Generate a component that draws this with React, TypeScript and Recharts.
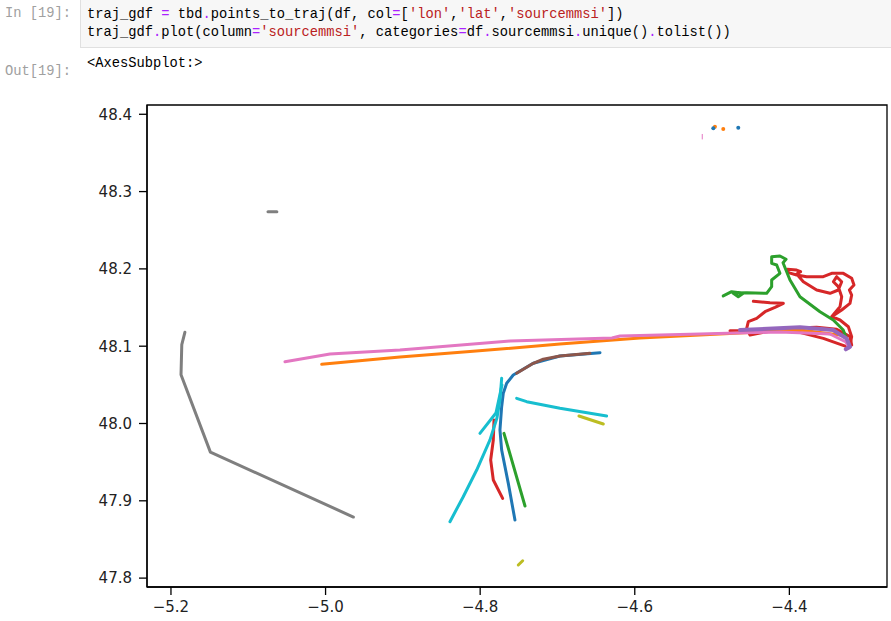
import React from "react";
import {
  ScatterChart,
  Scatter,
  XAxis,
  YAxis,
  ReferenceArea,
} from "recharts";

// lon / lat pairs
const blueTrack = [
  [-4.645, 48.0916], [-4.6968, 48.0873], [-4.7313, 48.0779], [-4.7572, 48.0627],
  [-4.7657, 48.052], [-4.7701, 48.0391], [-4.7722, 48.0217], [-4.7744, 47.9916],
  [-4.7722, 47.9657], [-4.7636, 47.9226], [-4.755, 47.8752],
];
const brownTrack = [
  [-4.658, 48.0908], [-4.6968, 48.0873], [-4.7184, 48.0831], [-4.7313, 48.0779], [-4.7528, 48.0649],
];
const redNorthA = [
  [-4.4466, 48.158], [-4.4251, 48.1563], [-4.4078, 48.1554], [-4.4186, 48.1502],
  [-4.4315, 48.1446], [-4.4423, 48.136], [-4.4531, 48.1317], [-4.4552, 48.1231],
  [-4.4509, 48.1145], [-4.4294, 48.1188], [-4.3992, 48.1231], [-4.3647, 48.1244],
  [-4.3388, 48.1218], [-4.3216, 48.1123], [-4.3194, 48.1015], [-4.3259, 48.0994],
  [-4.3561, 48.1101], [-4.3906, 48.1188], [-4.4294, 48.1201], [-4.4768, 48.1201],
];
const redNorthB = [
  [-4.3216, 48.1015], [-4.3194, 48.1123], [-4.3237, 48.1252], [-4.3345, 48.1339],
  [-4.3453, 48.1382], [-4.3323, 48.1468], [-4.3216, 48.1554], [-4.3194, 48.1662],
  [-4.3224, 48.1727], [-4.3164, 48.1791], [-4.3194, 48.1878], [-4.3302, 48.1942],
  [-4.3453, 48.1942], [-4.3561, 48.1899], [-4.3776, 48.1899], [-4.3906, 48.1921],
  [-4.4013, 48.1951], [-4.4026, 48.1994], [-4.3906, 48.1985], [-4.3854, 48.1964],
  [-4.3906, 48.1934], [-4.3819, 48.1834], [-4.3647, 48.1727], [-4.3474, 48.1684],
  [-4.3367, 48.1727], [-4.3323, 48.1834], [-4.3388, 48.1899], [-4.3431, 48.1834],
  [-4.3367, 48.177], [-4.3323, 48.164], [-4.3345, 48.1511], [-4.3453, 48.1382],
];
const redSouth = [
  [-4.7821, 48.0045], [-4.783, 47.9787], [-4.7864, 47.9528], [-4.783, 47.9269], [-4.7709, 47.9032],
];
const greenNorth = [
  [-4.4855, 48.165], [-4.4747, 48.1705], [-4.4596, 48.1684], [-4.4661, 48.164],
  [-4.473, 48.1688], [-4.4552, 48.1692], [-4.4294, 48.1684], [-4.4229, 48.177],
  [-4.4229, 48.1856], [-4.4122, 48.1943], [-4.4164, 48.205], [-4.4229, 48.2072],
  [-4.4229, 48.2158], [-4.4122, 48.2167], [-4.4043, 48.2124], [-4.4082, 48.208],
  [-4.3992, 48.1856], [-4.3863, 48.164], [-4.3604, 48.1446], [-4.3432, 48.1339],
  [-4.3303, 48.121], [-4.3238, 48.1037],
];
const greenSouth = [
  [-4.7692, 47.9873], [-4.742, 47.8933],
];
const orangeTrack = [
  [-5.005, 48.0766], [-4.9038, 48.086], [-4.8132, 48.093], [-4.6968, 48.1028],
  [-4.5933, 48.1106], [-4.4898, 48.1158], [-4.3863, 48.121], [-4.3345, 48.1145],
];
const pinkTrack = [
  [-5.0525, 48.08], [-4.9943, 48.0899], [-4.9038, 48.0951], [-4.7614, 48.1067],
  [-4.6295, 48.1106], [-4.6191, 48.1132], [-4.5157, 48.1158], [-4.4122, 48.1184],
  [-4.3475, 48.1158], [-4.3268, 48.1054], [-4.3229, 48.0977],
];
const purpleTrack = [
  [-4.4639, 48.121], [-4.3863, 48.1244], [-4.3436, 48.121], [-4.3259, 48.11],
  [-4.3216, 48.0993], [-4.327, 48.096],
];
const grayTrack = [
  [-5.182, 48.118], [-5.186, 48.102], [-5.187, 48.063], [-5.149, 47.963], [-4.964, 47.879],
];
const grayStub = [
  [-5.0745, 48.274], [-5.063, 48.274],
];
const oliveTrack = [
  [-4.6722, 48.0097], [-4.6407, 47.9994],
];
const oliveStub = [
  [-4.7507, 47.817], [-4.745, 47.8225],
];
const cyanLong = [
  [-4.8391, 47.873], [-4.8219, 47.9053], [-4.8045, 47.9398], [-4.7873, 47.9787],
  [-4.7783, 48.0071], [-4.7744, 48.0304], [-4.7722, 48.0585],
];
const cyanShort = [
  [-4.8003, 47.9873], [-4.7796, 48.0136], [-4.7718, 48.0498],
];
const cyanEast = [
  [-4.7528, 48.0326], [-4.7398, 48.0282], [-4.6968, 48.0197], [-4.6364, 48.0097],
];
const pinkTick = [
  [-4.5127, 48.368], [-4.5127, 48.374],
];
const orangeDots = [
  [-4.4963, 48.384], [-4.4855, 48.381],
];
const blueDots = [
  [-4.4984, 48.3819], [-4.4661, 48.3827],
];

const xTicks = [-5.2, -5.0, -4.8, -4.6, -4.4];
const yTicks = [47.8, 47.9, 48.0, 48.1, 48.2, 48.3, 48.4];
const xDomain = [-5.231, -4.2737];
const yDomain = [47.7885, 48.412];

const toPts = (arr: number[][]) => arr.map(([lon, lat]) => ({ lon, lat }));

const tracks: { name: string; data: number[][]; color: string; width?: number }[] = [
  { name: "blue", data: blueTrack, color: "#1f77b4" },
  { name: "brown", data: brownTrack, color: "#8c564b" },
  { name: "redA", data: redNorthA, color: "#d62728" },
  { name: "redB", data: redNorthB, color: "#d62728" },
  { name: "redS", data: redSouth, color: "#d62728" },
  { name: "greenN", data: greenNorth, color: "#2ca02c" },
  { name: "greenS", data: greenSouth, color: "#2ca02c" },
  { name: "orange", data: orangeTrack, color: "#ff7f0e" },
  { name: "pink", data: pinkTrack, color: "#e377c2" },
  { name: "purple", data: purpleTrack, color: "#9467bd", width: 4 },
  { name: "gray", data: grayTrack, color: "#7f7f7f" },
  { name: "grayStub", data: grayStub, color: "#7f7f7f" },
  { name: "olive", data: oliveTrack, color: "#bcbd22" },
  { name: "oliveStub", data: oliveStub, color: "#bcbd22" },
  { name: "cyanLong", data: cyanLong, color: "#17becf" },
  { name: "cyanShort", data: cyanShort, color: "#17becf" },
  { name: "cyanEast", data: cyanEast, color: "#17becf" },
  { name: "pinkTick", data: pinkTick, color: "#e377c2", width: 1 },
];

const fmtX = (v: number) => (v < 0 ? "\u2212" : "") + Math.abs(v).toFixed(1);
const fmtY = (v: number) => v.toFixed(1);

const mono = "'Liberation Mono', 'DejaVu Sans Mono', monospace";
const op = { color: "#aa22ff" };
const str = { color: "#ba2121" };

function CodeCell() {
  return (
    <>
      <div style={{ position: "absolute", left: 5, top: 6, fontFamily: mono, fontSize: 13.75, color: "#a0a0a0", whiteSpace: "pre" }}>
        In [19]:
      </div>
      <div
        style={{
          position: "absolute",
          left: 80,
          top: -2,
          width: 820,
          height: 50,
          background: "#f7f7f7",
          border: "1px solid #e0e0e0",
          boxSizing: "border-box",
        }}
      />
      <div style={{ position: "absolute", left: 87, top: 6, fontFamily: mono, fontSize: 13.75, lineHeight: "18px", color: "#000", whiteSpace: "pre" }}>
        <div>
          traj_gdf <span style={op}>=</span> tbd<span style={op}>.</span>points_to_traj(df, col<span style={op}>=</span>[<span style={str}>'lon'</span>,<span style={str}>'lat'</span>,<span style={str}>'sourcemmsi'</span>])
        </div>
        <div>
          traj_gdf<span style={op}>.</span>plot(column<span style={op}>=</span><span style={str}>'sourcemmsi'</span>, categories<span style={op}>=</span>df<span style={op}>.</span>sourcemmsi<span style={op}>.</span>unique()<span style={op}>.</span>tolist())
        </div>
      </div>
      <div style={{ position: "absolute", left: 5, top: 64, fontFamily: mono, fontSize: 13.75, color: "#a0a0a0", whiteSpace: "pre" }}>
        Out[19]:
      </div>
      <div style={{ position: "absolute", left: 87, top: 56, fontFamily: mono, fontSize: 13.75, color: "#000", whiteSpace: "pre" }}>
        {"<AxesSubplot:>"}
      </div>
    </>
  );
}

const noShape = () => <g />;
const smallDot = (p: any) => <circle cx={p.cx} cy={p.cy} r={2} fill={p.fill} />;

export default function App() {
  const tickStyle = { fontSize: 15, fill: "#222", fontFamily: "'DejaVu Sans', sans-serif" };
  return (
    <div style={{ position: "absolute", left: 0, top: 0, width: 891, height: 621, background: "#fff", overflow: "hidden" }}>
      <CodeCell />
      <div style={{ position: "absolute", left: 0, top: 0 }}>
        <ScatterChart width={891} height={621} margin={{ top: 105, right: 4, bottom: 4, left: 87 }}>
          <XAxis
            type="number"
            dataKey="lon"
            domain={xDomain}
            allowDataOverflow
            ticks={xTicks}
            tickFormatter={fmtX}
            height={30}
            tickSize={8}
            tickMargin={6}
            tick={tickStyle}
            axisLine={{ stroke: "#000", strokeWidth: 1.3 }}
            tickLine={{ stroke: "#000", strokeWidth: 1.3 }}
          />
          <YAxis
            type="number"
            dataKey="lat"
            domain={yDomain}
            allowDataOverflow
            ticks={yTicks}
            tickFormatter={fmtY}
            width={60}
            tickSize={8}
            tickMargin={7}
            tick={tickStyle}
            axisLine={{ stroke: "#000", strokeWidth: 1.3 }}
            tickLine={{ stroke: "#000", strokeWidth: 1.3 }}
          />
          {tracks.map((t) => (
            <Scatter
              key={t.name}
              name={t.name}
              data={toPts(t.data)}
              fill={t.color}
              shape={noShape}
              line={{ stroke: t.color, strokeWidth: t.width ?? 3, strokeLinejoin: "round", strokeLinecap: "round" }}
              isAnimationActive={false}
            />
          ))}
          <Scatter name="orangeDots" data={toPts(orangeDots)} fill="#ff7f0e" shape={smallDot} isAnimationActive={false} />
          <Scatter name="blueDots" data={toPts(blueDots)} fill="#1f77b4" shape={smallDot} isAnimationActive={false} />
          <ReferenceArea
            x1={xDomain[0]}
            x2={xDomain[1]}
            y1={yDomain[0]}
            y2={yDomain[1]}
            fill="none"
            stroke="#000"
            strokeWidth={1.3}
            ifOverflow="visible"
          />
        </ScatterChart>
      </div>
    </div>
  );
}
